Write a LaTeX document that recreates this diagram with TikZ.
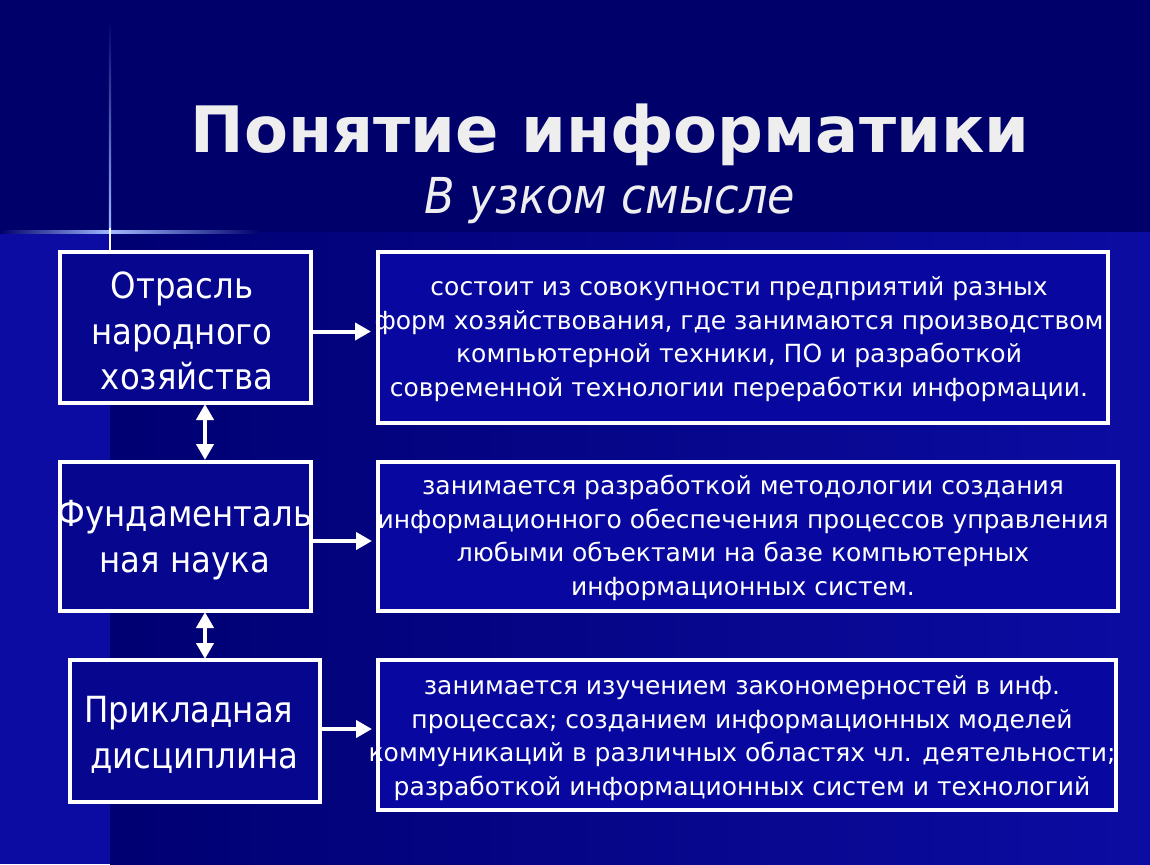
\documentclass[tikz,border=0pt]{standalone}
\usepackage{fontspec}
\setmainfont{DejaVu Sans Condensed}
\newfontfamily\widefont{DejaVu Sans}
\usetikzlibrary{arrows.meta}
\definecolor{bgtop}{HTML}{00006A}
\definecolor{bgdark}{HTML}{000072}
\definecolor{bglight}{HTML}{0C0CA2}
\definecolor{boxfill}{HTML}{06068F}
\definecolor{rboxfill}{HTML}{0808A0}
\definecolor{titlecol}{HTML}{EEEEEE}
\definecolor{glow}{HTML}{9FB8FF}
\tikzset{
  lbox/.style={draw=white, line width=4pt, fill=boxfill, inner sep=0pt},
  rbox/.style={draw=white, line width=4pt, fill=rboxfill, inner sep=0pt},
  ltext/.style={text=white, align=center, inner sep=0pt, font=\fontsize{36}{45.5}\selectfont},
  rtext/.style={text=white, align=center, inner sep=0pt, font=\widefont\fontsize{25}{33.6}\selectfont},
  arr/.style={white, line width=4pt, -{Triangle[width=17pt,length=16pt]}},
  darr/.style={white, line width=4pt, {Triangle[width=17pt,length=16pt]}-{Triangle[width=17pt,length=16pt]}},
}
\begin{document}
\begin{tikzpicture}[x=1pt,y=-1pt]
\useasboundingbox (0,0) rectangle (1150,864);
% background
\fill[bgtop] (0,0) rectangle (1150,233);
\shade[left color=bgdark, right color=bglight] (110,232) rectangle (1150,864);
\fill[bglight] (0,232) rectangle (110,864);
% glow cross
\shade[left color=bgtop, right color=glow] (0,230.5) rectangle (110,233.5);
\shade[left color=glow, right color=bgtop] (110,230.5) rectangle (260,233.5);
\shade[top color=bgtop, bottom color=glow] (108.8,20) rectangle (111.2,232);
\fill[white] (109,228) rectangle (111,250);
% title
\node[inner sep=0pt, text=titlecol, font=\widefont\fontsize{64}{72}\selectfont\bfseries] (title) at (610,135) {Понятие информатики};
\node[inner sep=0pt, text=titlecol, font=\fontsize{49.5}{56}\selectfont\itshape] (sub) at (610,201) {В узком смысле};
% left boxes
\node[lbox, minimum width=251pt, minimum height=151pt] (b1) at (185.5,327.5) {};
\node[lbox, minimum width=251pt, minimum height=149pt] (b2) at (185.5,536.5) {};
\node[lbox, minimum width=250pt, minimum height=142pt] (b3) at (195,731) {};
% right boxes
\node[rbox, minimum width=730pt, minimum height=171pt] (r1) at (743,337.5) {};
\node[rbox, minimum width=740pt, minimum height=149pt] (r2) at (748,536.5) {};
\node[rbox, minimum width=738pt, minimum height=150pt] (r3) at (747,735) {};
% left texts
\node[ltext] (t1) at (182,331) {Отрасль\\народного\\\ хозяйства};
\node[ltext] (t2) at (185,540) {Фундаменталь\\ная наука};
\node[ltext] (t3) at (189,735) {Прикладная\\\ дисциплина};
% right texts
\node[rtext] (u1) at (739,339) {состоит из совокупности предприятий разных\\форм хозяйствования, где занимаются производством\\компьютерной техники, ПО и разработкой\\современной технологии переработки информации.};
\node[rtext] (u2) at (743,538) {занимается разработкой методологии создания\\информационного обеспечения процессов управления\\любыми объектами на базе компьютерных\\информационных систем.};
\node[rtext] (u3) at (742,738) {занимается изучением закономерностей в инф.\\процессах; созданием информационных моделей\\коммуникаций в различных областях чл. деятельности;\\разработкой информационных систем и технологий};
% connectors
\draw[arr, shorten >=5pt] ([yshift=-4pt]b1.east) -- ([yshift=-4pt]b1.east -| r1.west);
\draw[arr, shorten >=4pt] ([yshift=-4.5pt]b2.east) -- ([yshift=-4.5pt]b2.east -| r2.west);
\draw[arr, shorten >=4pt] ([yshift=2pt]b3.east) -- ([yshift=2pt]b3.east -| r3.west);
\draw[darr, shorten >=1pt] ([xshift=19.5pt,yshift=1pt]b1.south) -- ([xshift=19.5pt,yshift=-1pt]b2.north);
\draw[darr] ([xshift=19.5pt,yshift=1pt]b2.south) -- ([xshift=10pt,yshift=-1pt]b3.north);
\end{tikzpicture}
\end{document}
